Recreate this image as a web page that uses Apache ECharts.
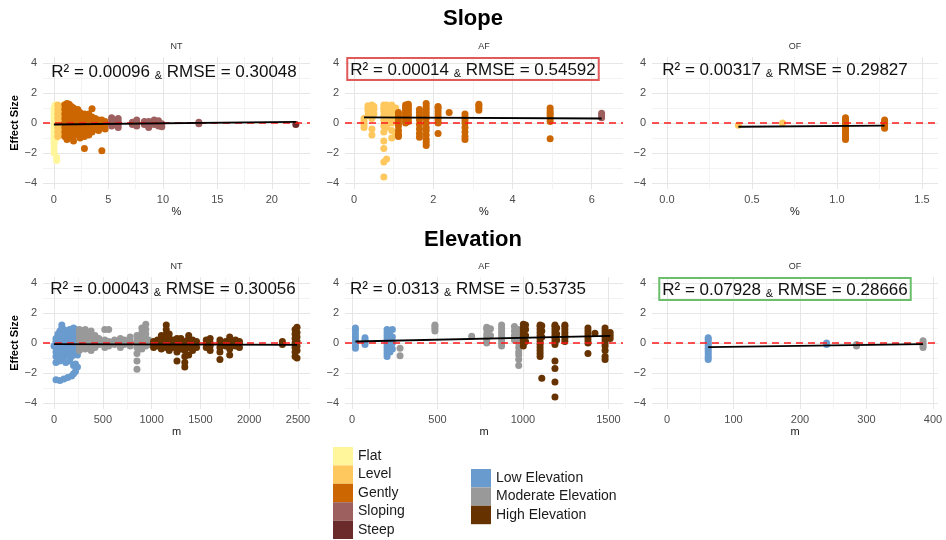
<!DOCTYPE html>
<html><head><meta charset="utf-8">
<script src="https://cdn.jsdelivr.net/npm/echarts@6/dist/echarts.min.js"></script>
<style>html,body{margin:0;padding:0;background:#fff}#c{width:946px;height:540px}</style>
</head><body><div id="c"></div>
<script>
// ---------- DATA (columns: [x, [y values]]) ----------
// Slope – NT (x in %)
const slopeNT_Flat = [
  [0.02, [-2.0,-1.7,-1.4,-1.2,-1.0,-0.8,-0.6,-0.4,-0.2,0,0.2,0.4,0.6,0.8,1.0]],
  [0.12, [-1.1,-0.9,-0.5,-0.3,-0.1,0.1,0.3,0.5,0.7,0.9,1.1,1.2]],
  [0.25, [-2.5,-2.3,-0.7,-0.4,-0.2,0,0.2,0.5,0.8]]
];
const slopeNT_Level = [
  [0.35, [-0.9,-0.6,-0.3,0,0.3,0.6,0.9,1.2]],
  [0.5, [-0.8,-0.4,-0.1,0.2,0.5,0.8,1.1]],
  [0.7, [-0.5,-0.2,0.1,0.4,0.7,1.0]],
  [0.9, [-0.6,-0.3,0,0.3,0.6,1.2]]
];
const slopeNT_Gently = [
  [1.0, [-0.9,-0.6,-0.3,0,0.3,0.6,0.9,1.2]],
  [1.2, [-1.1,-0.8,-0.5,-0.2,0.1,0.4,0.7,1.0,1.3]],
  [1.4, [-0.7,-0.4,-0.1,0.2,0.5,0.8,1.1,1.25]],
  [1.6, [-0.9,-0.6,-0.3,0,0.3,0.6,0.9,1.1]],
  [1.8, [-1.2,-0.5,-0.2,0.1,0.4,0.7,1.0]],
  [2.0, [-0.8,-0.4,-0.1,0.2,0.5,0.8]],
  [2.2, [-0.6,-0.3,0,0.3,0.6,0.9]],
  [2.4, [-1.0,-0.5,-0.2,0.1,0.4,0.7]],
  [2.6, [-0.7,-0.4,-0.1,0.2,0.5]],
  [2.8, [-1.7,-0.9,-0.3,0,0.3,0.6]],
  [3.0, [-0.5,-0.2,0.1,0.4]],
  [3.2, [-0.8,-0.3,0,0.3,0.6]],
  [3.5, [-0.6,-0.2,0.1,0.4,0.95]],
  [3.8, [-0.4,0,0.3]],
  [4.1, [-0.5,-0.1,0.2]],
  [4.4, [-1.85,-0.3,0,0.2]],
  [4.7, [-0.4,-0.1,0.1]]
];
const slopeNT_Sloping = [
  [5.3, [-0.2,0,0.2,0.35]], [5.9, [-0.3,-0.1,0.1,0.3]], [7.2, [-0.1,0.05]],
  [7.6, [-0.2,0,0.2]], [8.3, [-0.1,0.1]], [8.7, [-0.3,-0.1,0.1]],
  [9.2, [-0.1,0.1,0.2]], [9.6, [-0.2,0,0.15]], [9.9, [-0.25,-0.05]], [13.3, [-0.05,0.05]]
];
const slopeNT_Steep = [[22.2, [-0.1]]];

// Slope – AF
const slopeAF_Level = [
  [0.25, [-0.3,-0.1,0.1,0.3]],
  [0.35, [0.5,0.8,1.0,1.15]],
  [0.45, [-0.8,-0.4,0.3,0.7,0.9,1.1,1.2]],
  [0.5, [0.6,0.9,1.1]],
  [0.75, [-3.6,-2.6,-1.7,-1.2,-0.6,-0.2,0.2,0.5,0.8,1.0,1.2]],
  [0.82, [-2.4,-0.3,0.1,0.4,0.7,1.0,1.2]],
  [0.95, [-1.0,-0.5,0,0.3,0.6,0.9,1.1,1.2]],
  [1.05, [-0.7,0.2,0.6,1.0]]
];
const slopeAF_Gently = [
  [1.12, [-0.9,-0.75,-0.5,-0.2,0,0.2,0.4,0.6,0.7]],
  [1.3, [0,0.15,0.3,0.45,0.6,0.75,0.9,1.05,1.2]],
  [1.37, [0.1,0.3,0.5,0.7,0.9,1.1,1.25]],
  [1.65, [-0.95,-0.7,-0.4,-0.1,0.2,0.5,0.7,0.9]],
  [1.82, [-1.5,-1.3,-1.1,-0.8,-0.5,-0.3,0,0.3,0.5,0.7,0.9,1.1,1.3]],
  [2.12, [-0.7,0,0.2,0.4,0.6,0.8,1.0,1.1]],
  [2.4, [0.7]],
  [2.8, [-1.1,-0.9,-0.6,-0.3,0,0.2,0.4,0.6]],
  [3.15, [0.85,1.0,1.15,1.25]],
  [4.95, [-1.05,0.1,0.3,0.5,0.65,0.8,1.0]]
];
const slopeAF_Sloping = [[6.25, [0.35,0.5,0.65]]];

// Slope – OF
const slopeOF_Level = [[0.42, [-0.15]], [0.68, [0.0]]];
const slopeOF_Gently = [
  [1.05, [-1.1,-0.95,-0.8,-0.65,-0.5,-0.35,-0.2,-0.05,0.1,0.25,0.35]],
  [1.28, [-0.35,-0.2,-0.05,0.1,0.2]]
];

// Elevation – NT (x in m)
const elevNT_Low = [
  [0, [-0.2]],
  [20, [-2.45,-1.3,-0.9,-0.6,-0.3,-0.1,0.1,0.3]],
  [40, [-1.0,-0.7,-0.4,-0.2,0,0.2,0.4,0.6]],
  [60, [-2.5,-1.2,-0.8,-0.5,-0.3,-0.1,0.1,0.3,0.5,0.8]],
  [80, [-1.1,-0.6,-0.3,0,0.2,0.5,1.0,1.2]],
  [100, [-2.4,-0.9,-0.5,-0.2,0,0.3,0.6,0.9]],
  [120, [-1.3,-0.7,-0.4,-0.1,0.1,0.4,0.7]],
  [140, [-2.3,-0.8,-0.5,-0.2,0,0.2,0.5,0.8]],
  [160, [-1.2,-0.6,-0.3,0,0.3,0.6,0.9]],
  [180, [-2.2,-0.9,-0.4,-0.1,0.2,0.5,0.8]],
  [200, [-2.05,-1.5,-0.7,-0.3,0,0.3,0.6,1.0]],
  [220, [-1.9,-1.4,-0.5,-0.2,0.1,0.4,0.7,0.9]],
  [240, [-1.6,-0.8,-0.3,0,0.4,0.8]]
];
const elevNT_Moderate = [
  [260, [-0.5,-0.2,0,0.3,0.6,0.9]], [290, [-0.3,0,0.2,0.5,0.8]],
  [320, [-0.4,-0.1,0.2,0.4,0.7,0.9]], [350, [-0.2,0,0.3,0.6]],
  [380, [-0.5,-0.1,0.1,0.4,0.8]], [420, [-0.3,0,0.2,0.5]],
  [460, [-0.1,0.1,0.3]], [520, [-0.3,0,0.2,0.9]], [560, [-0.2,0.1,0.9]],
  [620, [-0.1,0.2]], [680, [-0.3,0,0.3]], [720, [-0.1,0.2]],
  [780, [-0.2,0.1,0.4]], [850, [-1.75,-1.2,-0.7,-0.3,0,0.2,0.5]],
  [900, [-0.4,-0.1,0.1,0.4,0.7,1.0]], [940, [-0.2,0,0.3,0.6,0.9,1.25]], [970, [-0.1,0.2]]
];
const elevNT_High = [
  [1020, [-0.3,-0.1,0.1]], [1060, [-0.2,0,0.2]], [1100, [-0.4,-0.1,0.1,0.3,0.5]],
  [1150, [-0.3,0,0.3,0.6,0.9,1.2]], [1180, [-0.5,-0.2,0,0.3,0.6]], [1220, [-0.3,-0.1,0.2]],
  [1260, [-1.2,-0.6,-0.3,0,0.3]], [1300, [-0.4,0,0.3]], [1340, [-1.6,-1.3,-0.9,-0.5,-0.2,0.1]],
  [1380, [-0.8,-0.3,0,0.3,0.5]], [1420, [-0.5,-0.1,0.2]], [1460, [-0.3,0,0.1]],
  [1560, [-0.3,0,0.2]], [1600, [-0.5,-0.2,0,0.3]], [1700, [-1.1,-0.6,-0.3,0,0.2]],
  [1760, [-0.2,0,0.1]], [1800, [-0.8,-0.4,-0.1,0.2,0.4]], [1860, [-0.2,0,0.2]],
  [1900, [-0.3,0,0.1]], [2340, [-0.1,0.1]],
  [2470, [-0.9,-0.6,-0.3,0,0.3,0.6,0.9]], [2490, [-1.0,-0.5,-0.2,0.1,0.4,0.7,1.05]]
];

// Elevation – AF
const elevAF_Low = [
  [20, [-0.35,-0.2,0,0.2,0.4,0.6,0.85,1.0]], [76, [-0.1,0.1,0.2,0.35]],
  [205, [-0.9,-0.7,-0.5,-0.3,-0.1,0.1,0.3,0.5,0.7,0.9]],
  [222, [-0.6,-0.2,0.2,0.5,0.8]], [236, [-0.4,0,0.4,0.9]]
];
const elevAF_Moderate = [
  [281, [-0.85,-0.35]], [485, [0.8,0.95,1.1,1.2]], [700, [0.45]],
  [788, [0,0.2,0.4,0.6,0.9,1.05]], [810, [0.5,0.95]],
  [875, [-0.2,0,0.2,0.4,0.6,0.8,1.0,1.2]], [950, [0.2,0.5,0.8,1.1]],
  [975, [-1.5,-1.1,-0.8,-0.6,-0.3,0,0.3,0.6,0.9]]
];
const elevAF_High = [
  [1002, [-0.2,0,0.2,0.4,0.6,0.8,1.0,1.25]], [1015, [0.1,0.5,0.9,1.2]],
  [1100, [-0.9,-0.7,-0.5,-0.3,-0.1,0.1,0.3,0.5,0.7,0.9,1.1,1.2]],
  [1110, [-2.35,0.4,0.8,1.15]],
  [1187, [-3.6,-2.6,-1.7,-1.2,-0.1,0.1,0.3,0.5,0.7,0.9,1.1,1.2]],
  [1197, [0.2,0.6,1.0]],
  [1245, [0.1,0.3,0.5,0.7,0.9,1.1,1.2]],
  [1380, [-0.7,0,0.2,0.4,0.6,0.8,1.0]], [1421, [0.65]],
  [1480, [-1.1,-0.9,-0.5,-0.2,0,0.2,0.4,0.6,0.8,1.0]], [1510, [0.3,0.5,0.7]]
];

// Elevation – OF
const elevOF_Low = [
  [62, [-1.1,-0.95,-0.8,-0.65,-0.5,-0.35,-0.2,-0.05,0.1,0.25,0.35]],
  [240, [-0.1,0.0]]
];
const elevOF_Moderate = [[285, [-0.2,-0.1]], [385, [-0.3,-0.15,0,0.15]]];

// Fitted regression lines (endpoints)
const fitSlopeNT = [[0, -0.1], [22.2, 0.08]];
const fitSlopeAF = [[0.25, 0.38], [6.25, 0.3]];
const fitSlopeOF = [[0.42, -0.25], [1.28, -0.17]];
const fitElevNT = [[0, -0.07], [2490, -0.12]];
const fitElevAF = [[20, 0.1], [1510, 0.48]];
const fitElevOF = [[62, -0.28], [385, -0.08]];

// Tick labels
const yTicks = [-4, -2, 0, 2, 4];
const yMinor = [-3, -1, 1, 3];
const slopeNTTicks = [0, 5, 10, 15, 20];
const slopeNTMinor = [2.5, 7.5, 12.5, 17.5, 22.5];
const slopeAFTicks = [0, 2, 4, 6];
const slopeAFMinor = [1, 3, 5];
const slopeOFTicks = [0, 0.5, 1.0, 1.5];
const slopeOFMinor = [0.25, 0.75, 1.25];
const elevNTTicks = [0, 500, 1000, 1500, 2000, 2500];
const elevNTMinor = [250, 750, 1250, 1750, 2250];
const elevAFTicks = [0, 500, 1000, 1500];
const elevAFMinor = [250, 750, 1250];
const elevOFTicks = [0, 100, 200, 300, 400];
const elevOFMinor = [50, 150, 250, 350];

const facets = ['NT', 'AF', 'OF'];
const statsText = [
  'R² = 0.00096 & RMSE = 0.30048', 'R² = 0.00014 & RMSE = 0.54592', 'R² = 0.00317 & RMSE = 0.29827',
  'R² = 0.00043 & RMSE = 0.30056', 'R² = 0.0313 & RMSE = 0.53735', 'R² = 0.07928 & RMSE = 0.28666'
];
const slopeClasses = ['Flat', 'Level', 'Gently', 'Sloping', 'Steep'];
const elevClasses = ['Low Elevation', 'Moderate Elevation', 'High Elevation'];

// ---------- STYLE / LAYOUT ----------
const FONT = '"Liberation Sans", Arial, sans-serif';
const colors = {
  'Flat': '#FFF59A', 'Level': '#FEC85E', 'Gently': '#CC6600', 'Sloping': '#9E5F5F', 'Steep': '#6B2B2B',
  'Low Elevation': '#6A9BCF', 'Moderate Elevation': '#999999', 'High Elevation': '#663300'
};
const cols = list => list.flatMap(([x, ys]) => ys.map(y => [x, y]));

const panels = [
  { box: [43, 57, 310, 189], xr: [-1.0, 23.5], tk: slopeNTTicks, mn: slopeNTMinor, xName: '%', fit: fitSlopeNT,
    groups: [['Flat', slopeNT_Flat], ['Level', slopeNT_Level], ['Gently', slopeNT_Gently], ['Sloping', slopeNT_Sloping], ['Steep', slopeNT_Steep]],
    stat: [174, 71], frame: null, yName: true },
  { box: [345, 57, 623, 189], xr: [-0.23, 6.79], tk: slopeAFTicks, mn: slopeAFMinor, xName: '%', fit: fitSlopeAF,
    groups: [['Level', slopeAF_Level], ['Gently', slopeAF_Gently], ['Sloping', slopeAF_Sloping]],
    stat: [473, 69], frame: '#E05A5A' },
  { box: [652, 57, 938, 189], xr: [-0.088, 1.594], tk: slopeOFTicks, mn: slopeOFMinor, xName: '%', fit: fitSlopeOF, fixed1: true,
    groups: [['Level', slopeOF_Level], ['Gently', slopeOF_Gently]],
    stat: [785, 69], frame: null },
  { box: [43, 277, 310, 409], xr: [-113, 2623], tk: elevNTTicks, mn: elevNTMinor, xName: 'm', fit: fitElevNT,
    groups: [['Low Elevation', elevNT_Low], ['Moderate Elevation', elevNT_Moderate], ['High Elevation', elevNT_High]],
    stat: [173, 288], frame: null, yName: true },
  { box: [345, 277, 623, 409], xr: [-41, 1585], tk: elevAFTicks, mn: elevAFMinor, xName: 'm', fit: fitElevAF,
    groups: [['Low Elevation', elevAF_Low], ['Moderate Elevation', elevAF_Moderate], ['High Elevation', elevAF_High]],
    stat: [468, 288], frame: null },
  { box: [652, 277, 938, 409], xr: [-22.5, 407.5], tk: elevOFTicks, mn: elevOFMinor, xName: 'm', fit: fitElevOF,
    groups: [['Low Elevation', elevOF_Low], ['Moderate Elevation', elevOF_Moderate]],
    stat: [785, 289], frame: '#6BBF6B' }
];

const grid = [], xAxis = [], yAxis = [], series = [], graphic = [];
const minus = v => (v < 0 ? '\u2212' + Math.abs(v) : String(v));

panels.forEach((p, i) => {
  const [l, t, r, b] = p.box;
  grid.push({ left: l, top: t, width: r - l, height: b - t, containLabel: false });
  const axBase = { type: 'value', gridIndex: i, axisLine: { show: false } };
  xAxis.push(Object.assign({}, axBase, {
    min: p.xr[0], max: p.xr[1],
    axisTick: { show: false, customValues: p.tk },
    axisLabel: { customValues: p.tk, color: '#4D4D4D', fontSize: 11, fontFamily: FONT, margin: 5,
      formatter: v => (p.fixed1 ? Number(v).toFixed(1) : String(v)) },
    splitLine: { show: true, lineStyle: { color: '#E6E6E6', width: 1 } },
    name: p.xName, nameLocation: 'middle', nameGap: 17,
    nameTextStyle: { color: '#1A1A1A', fontSize: 11, fontFamily: FONT }
  }));
  xAxis.push(Object.assign({}, axBase, {
    min: p.xr[0], max: p.xr[1],
    axisTick: { show: false, customValues: p.mn },
    axisLabel: { show: false },
    splitLine: { show: true, lineStyle: { color: '#F3F3F3', width: 1 } }
  }));
  yAxis.push(Object.assign({}, axBase, {
    min: -4.4, max: 4.4,
    axisTick: { show: false, customValues: yTicks },
    axisLabel: { customValues: yTicks, color: '#4D4D4D', fontSize: 11, fontFamily: FONT, margin: 6, formatter: minus },
    splitLine: { show: true, lineStyle: { color: '#E6E6E6', width: 1 } },
    name: p.yName ? 'Effect Size' : '', nameLocation: 'middle', nameGap: 23,
    nameTextStyle: { color: '#000', fontSize: 11, fontWeight: 'bold', fontFamily: FONT }
  }));
  yAxis.push(Object.assign({}, axBase, {
    min: -4.4, max: 4.4,
    axisTick: { show: false, customValues: yMinor },
    axisLabel: { show: false },
    splitLine: { show: true, lineStyle: { color: '#F3F3F3', width: 1 } }
  }));
  const xi = 2 * i, yi = 2 * i;
  p.groups.forEach(([name, d]) => {
    series.push({
      type: 'scatter', name, xAxisIndex: xi, yAxisIndex: yi, data: cols(d),
      symbolSize: 7, itemStyle: { color: colors[name], opacity: 1 }, z: 2, silent: true
    });
  });
  series.push({
    type: 'line', name: 'fit', xAxisIndex: xi, yAxisIndex: yi, data: p.fit,
    symbol: 'none', lineStyle: { color: '#000', width: 1.8 }, z: 4, silent: true,
    markLine: {
      silent: true, symbol: 'none', label: { show: false }, animation: false,
      lineStyle: { color: '#FF1A1A', type: [7, 5], width: 1.6 },
      data: [{ yAxis: 0 }], z: 3
    }
  });
  // facet label
  graphic.push({ type: 'text', x: (l + r) / 2, y: t - 10, silent: true,
    style: { text: facets[i % 3], fill: '#333', font: '9px ' + FONT, align: 'center', verticalAlign: 'middle' } });
  // stats label
  const parts = statsText[i].split('&');
  const st = {
    text: '{a|' + parts[0] + '}{b|&}{a|' + parts[1] + '}',
    align: 'center', verticalAlign: 'middle',
    rich: {
      a: { fontSize: 17, fontFamily: FONT, fill: '#111', lineHeight: 20, verticalAlign: 'bottom' },
      b: { fontSize: 11, fontFamily: FONT, fill: '#111', lineHeight: 20, verticalAlign: 'bottom' }
    }
  };
  if (p.frame) { st.borderColor = p.frame; st.borderWidth = 2; st.padding = [1, 3, 1, 3]; }
  graphic.push({ type: 'text', x: p.stat[0], y: p.stat[1], silent: true, z: 10, style: st });
});

graphic.push({ type: 'text', x: 473, y: 19, silent: true,
  style: { text: 'Slope', fill: '#000', font: 'bold 22px ' + FONT, align: 'center', verticalAlign: 'middle' } });
graphic.push({ type: 'text', x: 473, y: 240, silent: true,
  style: { text: 'Elevation', fill: '#000', font: 'bold 22px ' + FONT, align: 'center', verticalAlign: 'middle' } });

const legendBase = {
  orient: 'vertical', icon: 'rect', itemWidth: 20, itemHeight: 18.4, itemGap: 0,
  selectedMode: false, textStyle: { fontSize: 14, color: '#1A1A1A', fontFamily: FONT, lineHeight: 16 }, padding: 0
};

const chart = echarts.init(document.getElementById('c'), null, { renderer: 'canvas' });
chart.setOption({
  animation: false,
  backgroundColor: '#fff',
  grid, xAxis, yAxis, series, graphic,
  legend: [
    Object.assign({}, legendBase, { data: slopeClasses, left: 333, top: 447, height: 93 }),
    Object.assign({}, legendBase, { data: elevClasses, left: 471, top: 469 })
  ]
});
</script></body></html>
